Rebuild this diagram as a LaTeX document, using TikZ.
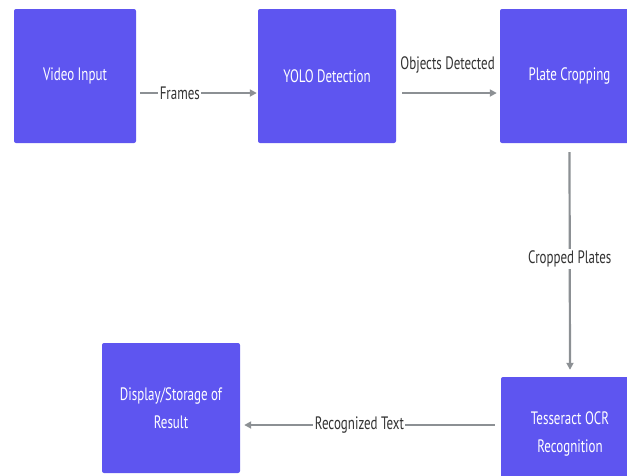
\documentclass[tikz,border=0pt]{standalone}
\usepackage{fontspec}
\setmainfont{PT Sans}[FakeStretch=0.72]
\usetikzlibrary{arrows.meta}
\definecolor{boxc}{HTML}{5E55F0}
\definecolor{linec}{HTML}{8C9094}
\begin{document}
\begin{tikzpicture}[x=1pt,y=-1pt,
  procbox/.style={fill=boxc,rounded corners=2pt,text=white,font=\fontsize{18}{21}\selectfont,align=center,inner sep=0pt},
  boxtext/.style={text=white,font=\fontsize{18}{21}\selectfont,align=center,inner sep=0pt},
  flow/.style={draw=linec,line width=2.2pt,-{Triangle[length=7pt,width=7pt]}},
  lbl/.style={fill=white,inner sep=1.5pt,text=black!80,font=\fontsize{18}{20}\selectfont}]
\useasboundingbox (0,0) rectangle (627,475);
\node[procbox,minimum width=122pt,minimum height=134pt] (vi) at (75,76) {Video Input};
\node[procbox,minimum width=138pt,minimum height=134pt] (yolo) at (327,76) {YOLO Detection};
\node[procbox,minimum width=139pt,minimum height=134pt] (plate) at (569.5,76) {Plate Cropping};
\node[procbox,minimum width=138pt,minimum height=130pt] (tess) at (570,442) {};
\node[boxtext] (tesst) at ([yshift=8pt]tess.center) {Tesseract OCR\\[7pt]Recognition};
\node[procbox,minimum width=138pt,minimum height=130pt] (disp) at (171,408) {Display/Storage of\\[7pt]Result};
\coordinate (a1s) at ([xshift=4pt,yshift=-17pt]vi.east);
\coordinate (a1e) at ([xshift=-1pt]a1s -| yolo.west);
\coordinate (a2s) at ([xshift=6pt,yshift=-17pt]yolo.east);
\coordinate (a2e) at ([xshift=-3pt]a2s -| plate.west);
\coordinate (a3s) at ([yshift=-9pt]plate.south);
\coordinate (a3e) at ([yshift=7pt]tess.north);
\coordinate (a4s) at ([xshift=-6pt,yshift=17pt]tess.west);
\coordinate (a4e) at ([xshift=4pt]a4s -| disp.east);
\draw[flow] (a1s) -- node[lbl,pos=0.34] {Frames} (a1e);
\draw[flow] (a2s) -- node[lbl,fill=none,above=17pt,pos=0.48] (od) {Objects Detected} (a2e);
\draw[flow] (a3s) -- node[lbl,pos=0.49] {Cropped Plates} (a3e);
\draw[flow] (a4s) -- node[lbl,pos=0.54] {Recognized Text} (a4e);
\end{tikzpicture}
\end{document}
